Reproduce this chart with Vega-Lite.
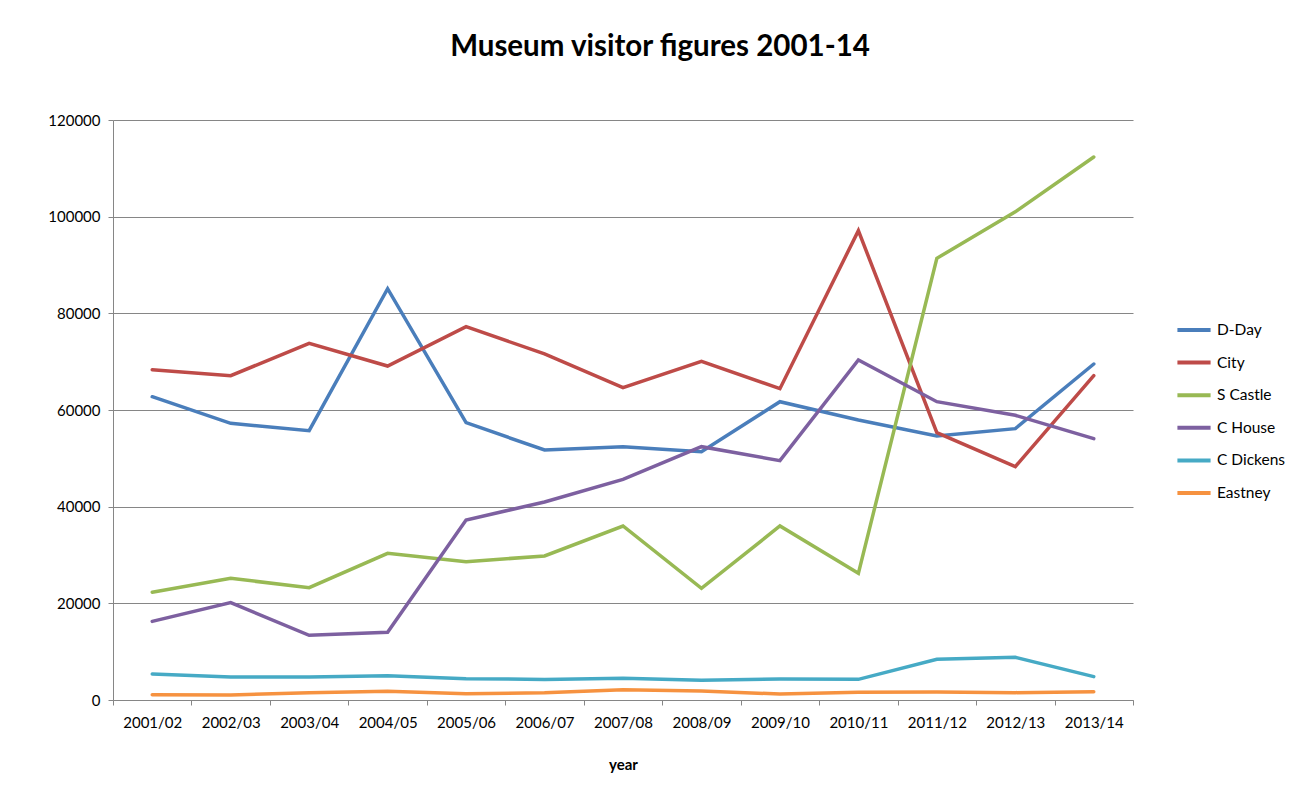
{
  "$schema": "https://vega.github.io/schema/vega-lite/v6.json",
  "width": 1020,
  "height": 580,
  "autosize": "none",
  "padding": {"left": 113, "top": 120, "right": 183, "bottom": 96},
  "background": "white",
  "title": {
    "text": "Museum visitor figures 2001-14",
    "font": "Lato",
    "fontSize": 29.5,
    "fontWeight": "bold",
    "color": "#000000",
    "anchor": "middle",
    "frame": "group",
    "dx": 37,
    "baseline": "alphabetic",
    "offset": 28
  },
  "data": {
    "values": [
      {"year": "2001/02", "museum": "D-Day", "visitors": 62750},
      {"year": "2002/03", "museum": "D-Day", "visitors": 57250},
      {"year": "2003/04", "museum": "D-Day", "visitors": 55720},
      {"year": "2004/05", "museum": "D-Day", "visitors": 85100},
      {"year": "2005/06", "museum": "D-Day", "visitors": 57380},
      {"year": "2006/07", "museum": "D-Day", "visitors": 51720},
      {"year": "2007/08", "museum": "D-Day", "visitors": 52410},
      {"year": "2008/09", "museum": "D-Day", "visitors": 51380},
      {"year": "2009/10", "museum": "D-Day", "visitors": 61720},
      {"year": "2010/11", "museum": "D-Day", "visitors": 57930},
      {"year": "2011/12", "museum": "D-Day", "visitors": 54620},
      {"year": "2012/13", "museum": "D-Day", "visitors": 56140},
      {"year": "2013/14", "museum": "D-Day", "visitors": 69520},
      {"year": "2001/02", "museum": "City", "visitors": 68350},
      {"year": "2002/03", "museum": "City", "visitors": 67100},
      {"year": "2003/04", "museum": "City", "visitors": 73800},
      {"year": "2004/05", "museum": "City", "visitors": 69100},
      {"year": "2005/06", "museum": "City", "visitors": 77240},
      {"year": "2006/07", "museum": "City", "visitors": 71600},
      {"year": "2007/08", "museum": "City", "visitors": 64620},
      {"year": "2008/09", "museum": "City", "visitors": 70070},
      {"year": "2009/10", "museum": "City", "visitors": 64410},
      {"year": "2010/11", "museum": "City", "visitors": 97100},
      {"year": "2011/12", "museum": "City", "visitors": 55310},
      {"year": "2012/13", "museum": "City", "visitors": 48280},
      {"year": "2013/14", "museum": "City", "visitors": 67100},
      {"year": "2001/02", "museum": "S Castle", "visitors": 22280},
      {"year": "2002/03", "museum": "S Castle", "visitors": 25170},
      {"year": "2003/04", "museum": "S Castle", "visitors": 23240},
      {"year": "2004/05", "museum": "S Castle", "visitors": 30340},
      {"year": "2005/06", "museum": "S Castle", "visitors": 28620},
      {"year": "2006/07", "museum": "S Castle", "visitors": 29800},
      {"year": "2007/08", "museum": "S Castle", "visitors": 36000},
      {"year": "2008/09", "museum": "S Castle", "visitors": 23100},
      {"year": "2009/10", "museum": "S Castle", "visitors": 36000},
      {"year": "2010/11", "museum": "S Castle", "visitors": 26210},
      {"year": "2011/12", "museum": "S Castle", "visitors": 91380},
      {"year": "2012/13", "museum": "S Castle", "visitors": 101000},
      {"year": "2013/14", "museum": "S Castle", "visitors": 112350},
      {"year": "2001/02", "museum": "C House", "visitors": 16270},
      {"year": "2002/03", "museum": "C House", "visitors": 20140},
      {"year": "2003/04", "museum": "C House", "visitors": 13380},
      {"year": "2004/05", "museum": "C House", "visitors": 14000},
      {"year": "2005/06", "museum": "C House", "visitors": 37240},
      {"year": "2006/07", "museum": "C House", "visitors": 40970},
      {"year": "2007/08", "museum": "C House", "visitors": 45660},
      {"year": "2008/09", "museum": "C House", "visitors": 52410},
      {"year": "2009/10", "museum": "C House", "visitors": 49520},
      {"year": "2010/11", "museum": "C House", "visitors": 70340},
      {"year": "2011/12", "museum": "C House", "visitors": 61720},
      {"year": "2012/13", "museum": "C House", "visitors": 58900},
      {"year": "2013/14", "museum": "C House", "visitors": 54070},
      {"year": "2001/02", "museum": "C Dickens", "visitors": 5380},
      {"year": "2002/03", "museum": "C Dickens", "visitors": 4760},
      {"year": "2003/04", "museum": "C Dickens", "visitors": 4760},
      {"year": "2004/05", "museum": "C Dickens", "visitors": 5030},
      {"year": "2005/06", "museum": "C Dickens", "visitors": 4410},
      {"year": "2006/07", "museum": "C Dickens", "visitors": 4250},
      {"year": "2007/08", "museum": "C Dickens", "visitors": 4480},
      {"year": "2008/09", "museum": "C Dickens", "visitors": 4070},
      {"year": "2009/10", "museum": "C Dickens", "visitors": 4340},
      {"year": "2010/11", "museum": "C Dickens", "visitors": 4270},
      {"year": "2011/12", "museum": "C Dickens", "visitors": 8410},
      {"year": "2012/13", "museum": "C Dickens", "visitors": 8830},
      {"year": "2013/14", "museum": "C Dickens", "visitors": 4830},
      {"year": "2001/02", "museum": "Eastney", "visitors": 1100},
      {"year": "2002/03", "museum": "Eastney", "visitors": 1030},
      {"year": "2003/04", "museum": "Eastney", "visitors": 1520},
      {"year": "2004/05", "museum": "Eastney", "visitors": 1790},
      {"year": "2005/06", "museum": "Eastney", "visitors": 1310},
      {"year": "2006/07", "museum": "Eastney", "visitors": 1500},
      {"year": "2007/08", "museum": "Eastney", "visitors": 2140},
      {"year": "2008/09", "museum": "Eastney", "visitors": 1860},
      {"year": "2009/10", "museum": "Eastney", "visitors": 1240},
      {"year": "2010/11", "museum": "Eastney", "visitors": 1590},
      {"year": "2011/12", "museum": "Eastney", "visitors": 1660},
      {"year": "2012/13", "museum": "Eastney", "visitors": 1520},
      {"year": "2013/14", "museum": "Eastney", "visitors": 1720}
    ]
  },
  "mark": {"type": "line", "strokeWidth": 3.5, "strokeJoin": "miter", "strokeCap": "round"},
  "encoding": {
    "x": {
      "field": "year",
      "type": "ordinal",
      "bandPosition": 0.5,
      "scale": {"type": "band", "paddingInner": 0, "paddingOuter": 0},
      "axis": {
        "title": "year",
        "titleFont": "Lato",
        "titleFontSize": 15,
        "titleFontWeight": "bold",
        "titleColor": "#000000",
        "titlePadding": 27,
        "labelAngle": 0,
        "labelFont": "Lato",
        "labelFontSize": 15,
        "labelColor": "#000000",
        "labelPadding": 10,
        "tickBand": "extent",
        "tickSize": 5,
        "tickColor": "#868686",
        "domainColor": "#868686",
        "domainWidth": 1,
        "grid": false
      }
    },
    "y": {
      "field": "visitors",
      "type": "quantitative",
      "scale": {"domain": [0, 120000], "nice": false},
      "axis": {
        "title": null,
        "values": [0, 20000, 40000, 60000, 80000, 100000, 120000],
        "format": "d",
        "labelFont": "Lato",
        "labelFontSize": 15,
        "labelColor": "#000000",
        "labelPadding": 8,
        "tickSize": 5,
        "tickColor": "#868686",
        "domainColor": "#868686",
        "grid": true,
        "gridColor": "#868686",
        "gridWidth": 1
      }
    },
    "color": {
      "field": "museum",
      "type": "nominal",
      "sort": ["D-Day", "City", "S Castle", "C House", "C Dickens", "Eastney"],
      "scale": {
        "domain": ["D-Day", "City", "S Castle", "C House", "C Dickens", "Eastney"],
        "range": ["#4A7EBB", "#BE4B48", "#98B954", "#7D60A0", "#46AAC5", "#F69240"]
      },
      "legend": {
        "title": null,
        "orient": "none",
        "legendX": 1062,
        "legendY": 191,
        "symbolType": "stroke",
        "symbolSize": 1100,
        "symbolStrokeWidth": 4,
        "labelFont": "Lato",
        "labelFontSize": 15.5,
        "labelColor": "#000000",
        "labelOffset": 4,
        "rowPadding": 4.6
      }
    }
  },
  "config": {
    "view": {"stroke": null}
  }
}
